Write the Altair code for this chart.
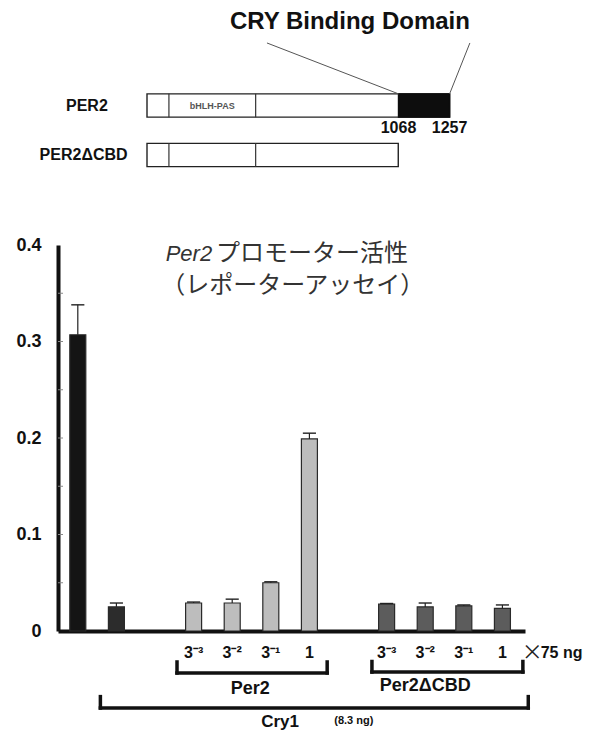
import altair as alt
import pandas as pd

# ---------------- data: reporter assay ----------------
groups = ["Control", "Cry1", "Per2", "Per2", "Per2", "Per2",
          "Per2ΔCBD", "Per2ΔCBD", "Per2ΔCBD", "Per2ΔCBD"]
doses = ["", "", "3⁻³", "3⁻²", "3⁻¹", "1", "3⁻³", "3⁻²", "3⁻¹", "1"]
activity = [0.307, 0.025, 0.029, 0.029, 0.050, 0.199, 0.028, 0.025, 0.026, 0.0235]
error = [0.031, 0.004, 0.001, 0.004, 0.001, 0.006, 0.0005, 0.004, 0.001, 0.0035]
group_order = ["Control", "Cry1", "Per2", "Per2ΔCBD"]
group_fill = ["#141414", "#2c2c2c", "#bdbdbd", "#5c5c5c"]
y_ticks = [0, 0.1, 0.2, 0.3, 0.4]
minor_ticks = [0.05, 0.1, 0.15, 0.2, 0.25, 0.3, 0.35]

# ---------------- data: protein diagram ----------------
constructs = ["PER2", "PER2ΔCBD"]
construct_end = [1257, 1067]
bhlh_pas = [94, 462]
cbd = [1068, 1257]

FONT = "Liberation Sans"
JP = "Noto Sans CJK JP"

# slot positions: one empty slot between the groups
gap_before = {"Control": 0, "Cry1": 0, "Per2": 1, "Per2ΔCBD": 2}
slots = [i + gap_before[g] for i, g in enumerate(groups)]
bars = pd.DataFrame({"slot": slots, "group": groups, "dose": doses,
                     "activity": activity, "error": error})
bars["top"] = bars["activity"] + bars["error"]
bars["cl"] = bars["slot"] - 0.17
bars["cr"] = bars["slot"] + 0.17

X_MIN, X_MAX = -0.513, 11.585
XS = alt.Scale(domain=[X_MIN, X_MAX], nice=False, zero=False, padding=0)
YS = alt.Scale(domain=[0, 0.4], nice=False, zero=False, padding=0)


def X(f):
    return alt.X(f, scale=XS, axis=None)


def Y(f):
    return alt.Y(f, scale=YS, axis=None)


bar_layer = alt.Chart(bars).mark_bar(size=16, stroke="#2a2a2a", strokeWidth=1.2).encode(
    x=alt.X("slot:Q", scale=XS,
            axis=alt.Axis(labels=False, ticks=False, grid=False, title=None,
                          domainWidth=4, domainColor="#111", orient="bottom")),
    y=alt.Y("activity:Q", scale=YS,
            axis=alt.Axis(values=y_ticks, grid=False, ticks=False, title=None, orient="left",
                          labelExpr="datum.value == 0 ? '0' : format(datum.value, '.1f')",
                          labelFont=FONT, labelFontWeight="bold", labelFontSize=18,
                          labelColor="#111", labelPadding=17,
                          domainWidth=4, domainColor="#111")),
    color=alt.Color("group:N", scale=alt.Scale(domain=group_order, range=group_fill),
                    legend=None),
)

err_layer = alt.Chart(bars).mark_rule(color="#222", strokeWidth=1.2).encode(
    x=X("slot:Q"), y=Y("activity:Q"), y2="top:Q")
cap_layer = alt.Chart(bars).mark_rule(color="#222", strokeWidth=1.4).encode(
    x=X("cl:Q"), x2="cr:Q", y=Y("top:Q"))

minor = pd.DataFrame({"v": minor_ticks, "a": X_MIN, "b": X_MIN + 0.13})
minor_layer = alt.Chart(minor).mark_rule(color="#888", strokeWidth=1).encode(
    x=X("a:Q"), x2="b:Q", y=Y("v:Q"))

dose_df = bars[bars["dose"] != ""]
dose_layer = alt.Chart(dose_df).transform_calculate(yy="-0.0228").mark_text(
    font=FONT, fontWeight="bold", fontSize=16, color="#111", baseline="middle"
).encode(x=X("slot:Q"), y=Y("yy:Q"), text="dose:N")

unit_df = pd.DataFrame({"x": [11.5, 11.99], "y": [-0.0228, -0.0228],
                        "t": ["×", "75 ng"]})
times_layer = alt.Chart(unit_df.iloc[[0]]).mark_text(
    font=JP, fontSize=21, color="#222", align="left", baseline="middle"
).encode(x=X("x:Q"), y=Y("y:Q"), text="t:N")
ng_layer = alt.Chart(unit_df.iloc[[1]]).mark_text(
    font=FONT, fontWeight="bold", fontSize=16, color="#111", align="left", baseline="middle"
).encode(x=X("x:Q"), y=Y("y:Q"), text="t:N")

# brackets (x extents in slot units, y below the zero line)
bracket_spec = [("Per2", 2.57, 6.46, -0.0435, -0.0321),
                ("Per2ΔCBD", 7.62, 11.53, -0.0425, -0.0316),
                ("Cry1", 0.585, 11.67, -0.0798, -0.068)]
seg_rows = []
for name, xl, xr, yb, yt in bracket_spec:
    seg_rows.append({"x1": xl, "x2": xr, "y1": yb, "y2": yb})
    seg_rows.append({"x1": xl, "x2": xl, "y1": yb, "y2": yt})
    seg_rows.append({"x1": xr, "x2": xr, "y1": yb, "y2": yt})
seg_df = pd.DataFrame(seg_rows)
bracket_layer = alt.Chart(seg_df).mark_rule(color="#111", strokeWidth=3.5, strokeCap="square").encode(
    x=X("x1:Q"), x2="x2:Q", y=Y("y1:Q"), y2="y2:Q")

blabel_df = pd.DataFrame({"x": [4.47, 9.0], "y": [-0.0601, -0.0565],
                          "t": ["Per2", "Per2ΔCBD"]})
blabel_layer = alt.Chart(blabel_df).mark_text(
    font=FONT, fontWeight="bold", fontSize=18, color="#111", baseline="middle"
).encode(x=X("x:Q"), y=Y("y:Q"), text="t:N")
cry_lab = pd.DataFrame({"x": [5.24], "y": [-0.0938], "t": ["Cry1"]})
crylab_layer = alt.Chart(cry_lab).mark_text(
    font=FONT, fontWeight="bold", fontSize=17, color="#111", baseline="middle"
).encode(x=X("x:Q"), y=Y("y:Q"), text="t:N")
dose_note = pd.DataFrame({"x": [7.15], "y": [-0.0928], "t": ["(8.3 ng)"]})
note_layer = alt.Chart(dose_note).mark_text(
    font=FONT, fontWeight="bold", fontSize=11, color="#111", baseline="middle"
).encode(x=X("x:Q"), y=Y("y:Q"), text="t:N")

# title
title_a = pd.DataFrame({"x": [3.48], "y": [0.391], "t": ["Per2"]})
title_b = pd.DataFrame({"x": [3.58], "y": [0.391], "t": ["プロモーター活性"]})
title_c = pd.DataFrame({"x": [5.57], "y": [0.357], "t": ["（レポーターアッセイ）"]})
ta = alt.Chart(title_a).mark_text(font=FONT, fontStyle="italic", fontSize=22, color="#333",
                                  align="right", baseline="middle").encode(
    x=X("x:Q"), y=Y("y:Q"), text="t:N")
tb = alt.Chart(title_b).mark_text(font=JP, fontSize=24, color="#333",
                                  align="left", baseline="middle").encode(
    x=X("x:Q"), y=Y("y:Q"), text="t:N")
tc = alt.Chart(title_c).mark_text(font=JP, fontSize=24, color="#333",
                                  align="center", baseline="middle").encode(
    x=X("x:Q"), y=Y("y:Q"), text="t:N")

assay_layers = [bar_layer, err_layer, cap_layer, minor_layer, dose_layer,
                times_layer, ng_layer, bracket_layer, blabel_layer, crylab_layer,
                note_layer, ta, tb, tc]

# ---------------- protein diagram (own scales, placed above the plot) ----------------
RS = alt.Scale(domain=[1, 1068, 1257], range=[89, 340.5, 391.6], nice=False, zero=False)
ROW = alt.Scale(domain=[0, 3], range=[-189, -40.5], nice=False, zero=False)
H = 0.235


def RX(f):
    return alt.X(f, scale=RS, axis=None)


def RY(f):
    return alt.Y(f, scale=ROW, axis=None)


rows = [1, 2]
box_df = pd.DataFrame({"name": constructs, "start": [1, 1], "end": construct_end,
                       "row": rows})
box_df["y0"] = box_df["row"] - H
box_df["y1"] = box_df["row"] + H
box_layer = alt.Chart(box_df).mark_rect(fill="white", stroke="#222", strokeWidth=1.4).encode(
    x=RX("start:Q"), x2="end:Q", y=RY("y0:Q"), y2="y1:Q")

cbd_df = pd.DataFrame({"start": [cbd[0]], "end": [cbd[1]], "y0": [1 - H], "y1": [1 + H]})
cbd_layer = alt.Chart(cbd_df).mark_rect(fill="#0d0d0d", stroke="#0d0d0d", strokeWidth=1.4).encode(
    x=RX("start:Q"), x2="end:Q", y=RY("y0:Q"), y2="y1:Q")

div_rows = [{"pos": p, "y0": r - H, "y1": r + H} for r in rows for p in bhlh_pas]
div_layer = alt.Chart(pd.DataFrame(div_rows)).mark_rule(color="#333", strokeWidth=1.2).encode(
    x=RX("pos:Q"), y=RY("y0:Q"), y2="y1:Q")

dom_label = pd.DataFrame({"x": [(bhlh_pas[0] + bhlh_pas[1]) / 2], "y": [1], "t": ["bHLH-PAS"]})
dom_layer = alt.Chart(dom_label).mark_text(font=FONT, fontWeight="bold", fontSize=9,
                                           color="#555", baseline="middle").encode(
    x=RX("x:Q"), y=RY("y:Q"), text="t:N")

name_df = pd.DataFrame({"x": [-254, -268], "y": rows, "t": constructs})
name_layer = alt.Chart(name_df).mark_text(font=FONT, fontWeight="bold", fontSize=16,
                                          color="#111", baseline="middle").encode(
    x=RX("x:Q"), y=RY("y:Q"), text="t:N")

num_df = pd.DataFrame({"x": cbd, "y": [1.455, 1.455], "t": [str(c) for c in cbd]})
num_layer = alt.Chart(num_df).mark_text(font=FONT, fontWeight="bold", fontSize=16,
                                        color="#111", baseline="middle").encode(
    x=RX("x:Q"), y=RY("y:Q"), text="t:N")

lead_df = pd.DataFrame({"x1": cbd, "x2": [510, 1332], "y1": [1 - H, 1 - H], "y2": [-0.263, -0.263]})
lead_layer = alt.Chart(lead_df).mark_rule(color="#555", strokeWidth=1).encode(
    x=RX("x1:Q"), x2="x2:Q", y=RY("y1:Q"), y2="y2:Q")

cry_df = pd.DataFrame({"x": [862], "y": [-0.687], "t": ["CRY Binding Domain"]})
cry_layer = alt.Chart(cry_df).mark_text(font=FONT, fontWeight="bold", fontSize=24,
                                        color="#111", baseline="middle").encode(
    x=RX("x:Q"), y=RY("y:Q"), text="t:N")

diagram_layers = [box_layer, cbd_layer, div_layer, dom_layer, name_layer,
                  num_layer, lead_layer, cry_layer]

chart = alt.layer(*assay_layers, *diagram_layers).resolve_scale(
    x="independent", y="independent"
).properties(
    width=467, height=386,
    autosize=alt.AutoSizeParams(type="none"),
    padding={"left": 50, "top": 237, "right": 61, "bottom": 99},
    background="white",
).configure_view(stroke=None)

chart.save("out.html", embed_options={"renderer": "svg", "actions": False})
